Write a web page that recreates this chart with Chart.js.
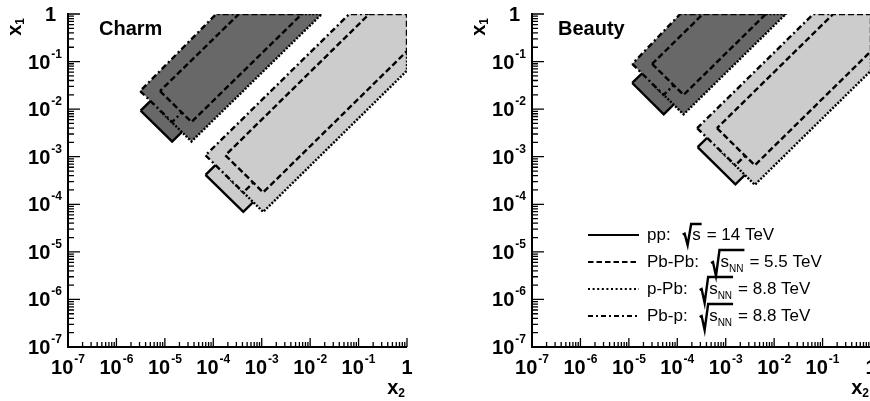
<!DOCTYPE html>
<html>
<head>
<meta charset="utf-8">
<script src="https://cdn.jsdelivr.net/npm/chart.js@4/dist/chart.umd.min.js"></script>
<style>
  html, body { margin: 0; padding: 0; background: #fff; overflow: hidden; width: 870px; height: 401px; }
  canvas { position: absolute; top: 0; }
  #charm { left: 0; }
  #beauty { left: 464px; }
</style>
</head>
<body>
<canvas id="charm" width="435" height="401"></canvas>
<canvas id="beauty" width="435" height="401"></canvas>
<script>
const systems = ['pp', 'Pb-Pb', 'p-Pb', 'Pb-p'];
const legendLabels = ['pp:', 'Pb-Pb:', 'p-Pb:', 'Pb-p:'];
const legendSub = ['', 'NN', 'NN', 'NN'];
const legendEnergy = ['14 TeV', '5.5 TeV', '8.8 TeV', '8.8 TeV'];
const decades = [-7, -6, -5, -4, -3, -2, -1, 0];

// region corners, as [log10 x2, log10 x1], one polygon per system
const charmForward = [
  [[-5.50, -2.03], [-4.85, -2.68], [-2.17, 0], [-3.47, 0]],
  [[-5.10, -1.62], [-4.45, -2.27], [-2.17, 0], [-3.47, 0]],
  [[-5.10, -2.03], [-4.45, -2.68], [-1.76, 0], [-3.07, 0]],
  [[-5.51, -1.62], [-4.85, -2.27], [-2.58, 0], [-3.94, 0]]
];
const charmCentral = [
  [[-4.16, -3.38], [-3.38, -4.16], [0, -0.78], [0, 0], [-0.78, 0]],
  [[-3.75, -2.97], [-2.97, -3.75], [0, -0.78], [0, 0], [-0.78, 0]],
  [[-3.75, -3.38], [-2.97, -4.16], [0, -1.19], [0, 0], [-0.37, 0]],
  [[-4.16, -2.97], [-3.38, -3.75], [0, -0.37], [0, 0], [-1.19, 0]]
];
const beautyForward = [
  [[-4.93, -1.45], [-4.28, -2.11], [-2.17, 0], [-3.47, 0]],
  [[-4.52, -1.05], [-3.87, -1.70], [-2.17, 0], [-3.47, 0]],
  [[-4.52, -1.46], [-3.87, -2.11], [-1.76, 0], [-3.07, 0]],
  [[-4.93, -1.05], [-4.28, -1.70], [-2.58, 0], [-3.94, 0]]
];
const beautyCentral = [
  [[-3.58, -2.80], [-2.80, -3.58], [0, -0.78], [0, 0], [-0.78, 0]],
  [[-3.18, -2.40], [-2.40, -3.18], [0, -0.78], [0, 0], [-0.78, 0]],
  [[-3.18, -2.80], [-2.40, -3.59], [0, -1.19], [0, 0], [-0.37, 0]],
  [[-3.59, -2.40], [-2.80, -3.18], [0, -0.37], [0, 0], [-1.19, 0]]
];

const DARK = '#686868';
const LIGHT = '#cccccc';
const FONT = '"Liberation Sans", Arial, Helvetica, sans-serif';
const dashFor = { 'pp': [], 'Pb-Pb': [6, 3], 'p-Pb': [2, 1.6], 'Pb-p': [6, 3, 2, 3] };
const legendDash = { 'pp': [], 'Pb-Pb': [5.5, 3], 'p-Pb': [2, 2.6], 'Pb-p': [5, 3, 2, 3] };
// lower order is painted last; pp goes underneath, Pb-Pb on top
const drawOrder = { 'pp': 4, 'p-Pb': 3, 'Pb-p': 2, 'Pb-Pb': 1 };

function toPoints(poly) {
  return [...poly, poly[0]].map(([lx2, lx1]) => ({ x: 10 ** lx2, y: 10 ** lx1 }));
}

function regionDatasets(polys, color) {
  return systems.map((sys, i) => ({
    label: sys,
    data: toPoints(polys[i]),
    borderColor: '#000',
    borderWidth: 2.4,
    borderDash: dashFor[sys],
    borderCapStyle: 'butt',
    backgroundColor: color,
    fill: 'shape',
    pointRadius: 0,
    tension: 0,
    order: drawOrder[sys]
  }));
}

function drawPower(ctx, e, x, baseY, align) {
  const base = e === 0 ? '1' : '10';
  const exp = e === 0 ? '' : String(e);
  ctx.font = 'bold 20px ' + FONT;
  const wb = ctx.measureText(base).width;
  ctx.font = 'bold 12px ' + FONT;
  const we = exp ? ctx.measureText(exp).width + 1 : 0;
  const w = wb + we;
  let left = x;
  if (align === 'center') left = x - w / 2;
  if (align === 'right') left = x - w;
  ctx.textAlign = 'left';
  ctx.font = 'bold 20px ' + FONT;
  ctx.fillText(base, left, baseY);
  if (exp) {
    ctx.font = 'bold 12px ' + FONT;
    ctx.fillText(exp, left + wb + 1, baseY - 11);
  }
}

const rootAxes = {
  id: 'rootAxes',
  afterDraw(chart, args, opts) {
    const { ctx, chartArea: a, scales: { x, y } } = chart;
    ctx.save();
    ctx.strokeStyle = '#000';
    ctx.fillStyle = '#000';
    ctx.lineWidth = 2;
    ctx.beginPath();
    ctx.moveTo(a.left, a.top - 1);
    ctx.lineTo(a.left, a.bottom);
    ctx.lineTo(a.right, a.bottom);
    ctx.stroke();

    ctx.lineWidth = 1.3;
    ctx.beginPath();
    decades.forEach((e) => {
      for (let k = 1; k <= 9; k++) {
        if (e === 0 && k > 1) break;
        const v = k * 10 ** e;
        const major = k === 1;
        const px = x.getPixelForValue(v);
        ctx.moveTo(px, a.bottom);
        ctx.lineTo(px, a.bottom - (major ? 9 : 5));
        const py = y.getPixelForValue(v);
        ctx.moveTo(a.left, py);
        ctx.lineTo(a.left + (major ? 12 : 6), py);
      }
    });
    ctx.stroke();

    ctx.textBaseline = 'alphabetic';
    decades.forEach((e) => {
      const px = x.getPixelForValue(10 ** e);
      drawPower(ctx, e, px, a.bottom + 27, 'center');
      const py = y.getPixelForValue(10 ** e);
      drawPower(ctx, e, e === 0 ? a.left - 12 : a.left - 6, py + 7, 'right');
    });

    // axis titles
    ctx.font = 'bold 20px ' + FONT;
    const wx = ctx.measureText('x').width;
    ctx.font = 'bold 12px ' + FONT;
    const ws2 = ctx.measureText('2').width;
    ctx.textAlign = 'left';
    ctx.font = 'bold 20px ' + FONT;
    ctx.fillText('x', a.right - 2 - ws2 - wx, a.bottom + 47);
    ctx.font = 'bold 12px ' + FONT;
    ctx.fillText('2', a.right - 2 - ws2, a.bottom + 50);

    ctx.save();
    ctx.translate(a.left - 47, a.top + 4);
    ctx.rotate(-Math.PI / 2);
    ctx.font = 'bold 12px ' + FONT;
    const ws1 = ctx.measureText('1').width;
    ctx.font = 'bold 20px ' + FONT;
    ctx.fillText('x', -ws1 - wx, 0);
    ctx.font = 'bold 12px ' + FONT;
    ctx.fillText('1', -ws1, 3);
    ctx.restore();

    ctx.font = 'bold 20px ' + FONT;
    ctx.fillText(opts.title, a.left + opts.titleDx, 35);
    ctx.restore();
  }
};

function drawRoot(ctx, x0, top, bottom, width) {
  const h = bottom - top;
  ctx.beginPath();
  ctx.moveTo(x0, top + h * 0.5);
  ctx.lineTo(x0 + 2, top + h * 0.46);
  ctx.lineTo(x0 + 5, bottom);
  ctx.lineTo(x0 + 8.5, top);
  ctx.lineTo(x0 + 8.5 + width, top);
  ctx.stroke();
}

const rootLegend = {
  id: 'rootLegend',
  afterDraw(chart) {
    const { ctx } = chart;
    const rowY = [235, 262, 289, 316];
    ctx.save();
    ctx.strokeStyle = '#000';
    ctx.fillStyle = '#000';
    ctx.textBaseline = 'alphabetic';
    ctx.textAlign = 'left';
    systems.forEach((sys, i) => {
      const ly = rowY[i];
      ctx.lineWidth = 2.2;
      ctx.setLineDash(legendDash[sys]);
      ctx.beginPath();
      ctx.moveTo(124, ly);
      ctx.lineTo(175, ly);
      ctx.stroke();
      ctx.setLineDash([]);

      ctx.font = '17px ' + FONT;
      ctx.fillText(legendLabels[i], 183, ly + 5);
      const xr = 183 + ctx.measureText(legendLabels[i]).width + 12;
      const ws = ctx.measureText('s').width;
      ctx.font = '10px ' + FONT;
      const wsub = legendSub[i] ? ctx.measureText(legendSub[i]).width : 0;
      const top = legendSub[i] ? ly - 12 : ly - 11;
      const bottom = legendSub[i] ? ly + 14 : ly + 10;
      const inner = ws + wsub + 2;
      ctx.lineWidth = 2.4;
      drawRoot(ctx, xr, top, bottom, inner);
      const xs = xr + 9.5;
      ctx.font = '17px ' + FONT;
      ctx.fillText('s', xs, ly + 5);
      if (legendSub[i]) {
        ctx.font = '10px ' + FONT;
        ctx.fillText(legendSub[i], xs + ws, ly + 10);
      }
      ctx.font = '17px ' + FONT;
      ctx.fillText('= ' + legendEnergy[i], xr + 8.5 + inner + 5, ly + 5);
    });
    ctx.restore();
  }
};

function makeChart(id, forward, central, title, titleDx, withLegend) {
  const ctx = document.getElementById(id).getContext('2d');
  return new Chart(ctx, {
    type: 'line',
    data: { datasets: [...regionDatasets(forward, DARK), ...regionDatasets(central, LIGHT)] },
    options: {
      responsive: false,
      animation: false,
      events: [],
      devicePixelRatio: 1,
      layout: { padding: { left: 68, right: 28, top: 14, bottom: 54 } },
      scales: {
        x: { type: 'logarithmic', min: 1e-7, max: 1, display: false },
        y: { type: 'logarithmic', min: 1e-7, max: 1, display: false }
      },
      plugins: {
        legend: { display: false },
        tooltip: { enabled: false },
        rootAxes: { title, titleDx }
      }
    },
    plugins: withLegend ? [rootAxes, rootLegend] : [rootAxes]
  });
}

makeChart('charm', charmForward, charmCentral, 'Charm', 31, false);
makeChart('beauty', beautyForward, beautyCentral, 'Beauty', 26, true);
</script>
</body>
</html>
